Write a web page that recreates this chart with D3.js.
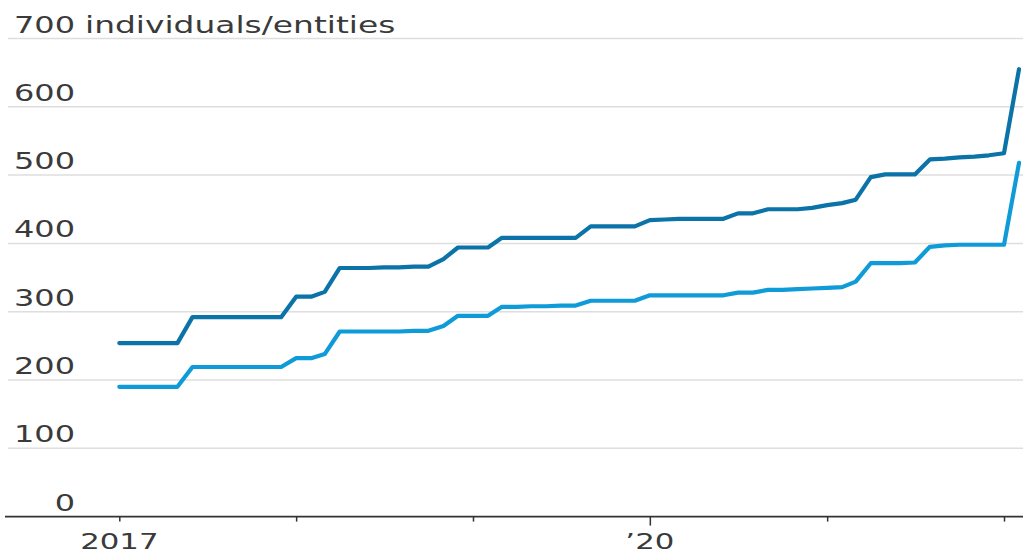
<!DOCTYPE html>
<html>
<head>
<meta charset="utf-8">
<script src="https://cdn.jsdelivr.net/npm/d3@7"></script>
<style>
  html, body { margin: 0; padding: 0; background: #fff; }
  svg { display: block; }
</style>
</head>
<body>
<svg id="chart" width="1023" height="556"></svg>
<script>
// ---- data (monthly, Jan 2017 – Feb 2022) ----
const months = d3.timeMonth.range(new Date(2017, 0, 1), new Date(2022, 2, 1));

const totalSeries = [
  254, 254, 254, 254, 254, 292, 292, 292, 292, 292, 292, 292,   // 2017
  322, 322, 329, 364, 364, 364, 365, 365, 366, 366, 377, 394,   // 2018
  394, 394, 408, 408, 408, 408, 408, 408, 425, 425, 425, 425,   // 2019
  434, 435, 436, 436, 436, 436, 444, 444, 450, 450, 450, 452,   // 2020
  456, 459, 464, 497, 501, 501, 501, 523, 524, 526, 527, 529,   // 2021
  532, 655                                                      // 2022
];
const subSeries = [
  190, 190, 190, 190, 190, 219, 219, 219, 219, 219, 219, 219,   // 2017
  232, 232, 238, 271, 271, 271, 271, 271, 272, 272, 279, 294,   // 2018
  294, 294, 307, 307, 308, 308, 309, 309, 316, 316, 316, 316,   // 2019
  324, 324, 324, 324, 324, 324, 328, 328, 332, 332, 333, 334,   // 2020
  335, 336, 344, 371, 371, 371, 372, 395, 397, 398, 398, 398,   // 2021
  398, 518                                                      // 2022
];

const yTicks = [0, 100, 200, 300, 400, 500, 600, 700];
const yUnit = "individuals/entities";
const xTickYears = [2017, 2018, 2019, 2020, 2021, 2022];
const xTickLabels = { 2017: "2017", 2020: "\u201920" };

// ---- layout ----
const svg = d3.select("#chart");
const FONT = "DejaVu Sans, Verdana, sans-serif";
const STRETCH = 1.36;

const x = d3.scaleTime()
  .domain([new Date(2017, 0, 1), new Date(2022, 0, 1)])
  .range([119.3, 1004]);
const y = d3.scaleLinear().domain([0, 700]).range([516.6, 38.5]);

// gridlines
svg.append("g").selectAll("line")
  .data(yTicks.filter(d => d > 0))
  .join("line")
  .attr("x1", 8).attr("x2", 1023)
  .attr("y1", d => y(d)).attr("y2", d => y(d))
  .attr("stroke", "#dedede").attr("stroke-width", 1.5);

// y labels
const yl = svg.append("g").selectAll("g")
  .data(yTicks)
  .join("g")
  .attr("transform", d => `translate(75,${y(d) - 6}) scale(${STRETCH},1)`);
yl.append("text")
  .attr("text-anchor", "end")
  .attr("font-family", FONT)
  .attr("font-size", 23.5)
  .attr("fill", "#3a3a3a")
  .text(d => d);

svg.append("g")
  .attr("transform", `translate(85,${y(700) - 6}) scale(1.4,1)`)
  .append("text")
  .attr("font-family", FONT)
  .attr("font-size", 23.5)
  .attr("fill", "#3a3a3a")
  .text(yUnit);

// x axis
const xAxis = d3.axisBottom(x)
  .tickValues(xTickYears.map(yr => new Date(yr, 0, 1)))
  .tickSize(5)
  .tickFormat(() => "");
const gx = svg.append("g")
  .attr("transform", `translate(0,${y(0)})`)
  .call(xAxis);
gx.select(".domain").remove();
gx.selectAll(".tick line")
  .attr("stroke", "#333").attr("stroke-width", 1.5)
  .attr("y2", d => d.getFullYear() === 2020 ? 9 : 5);

svg.append("line")
  .attr("x1", 5).attr("x2", 1023)
  .attr("y1", y(0)).attr("y2", y(0))
  .attr("stroke", "#333").attr("stroke-width", 1.6);

// x labels
svg.append("g").selectAll("g")
  .data(xTickYears.filter(yr => xTickLabels[yr]))
  .join("g")
  .attr("transform", yr => `translate(${x(new Date(yr, 0, 1))},549) scale(1.4,1)`)
  .append("text")
  .attr("text-anchor", "middle")
  .attr("font-family", FONT)
  .attr("font-size", 22)
  .attr("fill", "#3a3a3a")
  .text(yr => xTickLabels[yr]);

// lines
const line = d3.line()
  .x(d => x(d[0]))
  .y(d => y(d[1]));

svg.append("path")
  .datum(months.map((m, i) => [m, subSeries[i]]))
  .attr("d", line)
  .attr("fill", "none")
  .attr("stroke", "#0f9ad8")
  .attr("stroke-width", 4.2)
  .attr("stroke-linejoin", "round")
  .attr("stroke-linecap", "round");

svg.append("path")
  .datum(months.map((m, i) => [m, totalSeries[i]]))
  .attr("d", line)
  .attr("fill", "none")
  .attr("stroke", "#0b73a8")
  .attr("stroke-width", 4.2)
  .attr("stroke-linejoin", "round")
  .attr("stroke-linecap", "round");
</script>
</body>
</html>
